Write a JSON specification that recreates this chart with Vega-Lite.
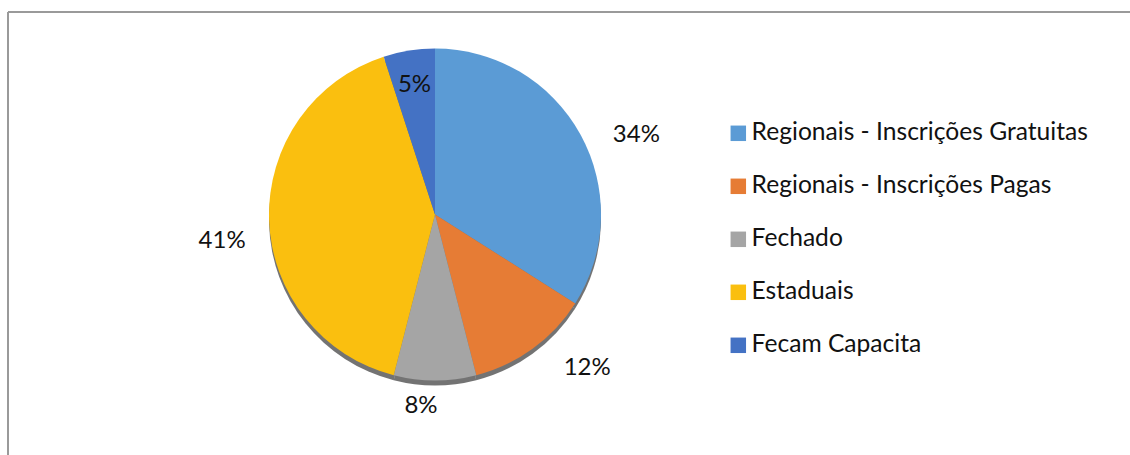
{
  "$schema": "https://vega.github.io/schema/vega-lite/v6.json",
  "width": 854,
  "height": 405,
  "autosize": {"type": "none"},
  "padding": {"left": 8, "top": 12, "right": 268, "bottom": 38},
  "background": "white",
  "config": {"view": {"stroke": null}, "font": "Lato", "text": {"font": "Lato"}},
  "data": {"values": [
    {"categoria": "Regionais - Inscrições Gratuitas", "percentual": 34, "rotulo": "34%", "ordem": 1},
    {"categoria": "Regionais - Inscrições Pagas", "percentual": 12, "rotulo": "12%", "ordem": 2},
    {"categoria": "Fechado", "percentual": 8, "rotulo": "8%", "ordem": 3},
    {"categoria": "Estaduais", "percentual": 41, "rotulo": "41%", "ordem": 4},
    {"categoria": "Fecam Capacita", "percentual": 5, "rotulo": "5%", "ordem": 5}
  ]},
  "layer": [
    {
      "mark": {"type": "arc", "radius": 166, "yOffset": 5, "color": "#000000", "opacity": 0.55},
      "encoding": {
        "theta": {"field": "percentual", "type": "quantitative", "stack": true},
        "order": {"field": "ordem", "type": "quantitative"}
      }
    },
    {
      "mark": {"type": "arc", "radius": 166},
      "encoding": {
        "theta": {"field": "percentual", "type": "quantitative", "stack": true},
        "order": {"field": "ordem", "type": "quantitative"},
        "color": {
          "field": "categoria", "type": "nominal", "sort": null,
          "scale": {
            "domain": ["Regionais - Inscrições Gratuitas", "Regionais - Inscrições Pagas", "Fechado", "Estaduais", "Fecam Capacita"],
            "range": ["#5B9BD5", "#E67C35", "#A5A5A5", "#FABF0F", "#4472C4"]
          },
          "legend": {
            "orient": "none", "legendX": 718, "legendY": 109, "title": null,
            "symbolType": "square", "symbolSize": 240, "symbolStrokeWidth": 0,
            "labelFontSize": 24.6, "labelFont": "Lato", "labelColor": "#111111",
            "labelOffset": 1, "labelLimit": 600, "rowPadding": 28, "padding": 0
          }
        }
      }
    },
    {
      "mark": {"type": "text", "radius": 215, "dx": 13, "dy": 24, "fontSize": 24, "color": "#111111"},
      "encoding": {
        "theta": {"field": "percentual", "type": "quantitative", "stack": true},
        "order": {"field": "ordem", "type": "quantitative"},
        "text": {"condition": {"test": "datum.rotulo === '34%'", "field": "rotulo", "type": "nominal"}, "value": ""}
      }
    },
    {
      "mark": {"type": "text", "radius": 213, "dx": 27, "dy": -19, "fontSize": 24, "color": "#111111"},
      "encoding": {
        "theta": {"field": "percentual", "type": "quantitative", "stack": true},
        "order": {"field": "ordem", "type": "quantitative"},
        "text": {"condition": {"test": "datum.rotulo === '12%'", "field": "rotulo", "type": "nominal"}, "value": ""}
      }
    },
    {
      "mark": {"type": "text", "radius": 191, "dx": -14, "dy": 0, "fontSize": 24, "color": "#111111"},
      "encoding": {
        "theta": {"field": "percentual", "type": "quantitative", "stack": true},
        "order": {"field": "ordem", "type": "quantitative"},
        "text": {"condition": {"test": "datum.rotulo === '8%'", "field": "rotulo", "type": "nominal"}, "value": ""}
      }
    },
    {
      "mark": {"type": "text", "radius": 213, "dx": 0, "dy": 20, "fontSize": 24, "color": "#111111"},
      "encoding": {
        "theta": {"field": "percentual", "type": "quantitative", "stack": true},
        "order": {"field": "ordem", "type": "quantitative"},
        "text": {"condition": {"test": "datum.rotulo === '41%'", "field": "rotulo", "type": "nominal"}, "value": ""}
      }
    },
    {
      "mark": {"type": "text", "radius": 131, "dx": 0, "dy": 0, "fontSize": 24, "color": "#111111"},
      "encoding": {
        "theta": {"field": "percentual", "type": "quantitative", "stack": true},
        "order": {"field": "ordem", "type": "quantitative"},
        "text": {"condition": {"test": "datum.rotulo === '5%'", "field": "rotulo", "type": "nominal"}, "value": ""}
      }
    },
    {
      "data": {"values": [{}]},
      "mark": {"type": "rule", "color": "#9A9A9A", "strokeWidth": 2},
      "encoding": {"x": {"value": 0}, "x2": {"value": 1122}, "y": {"value": 0}}
    },
    {
      "data": {"values": [{}]},
      "mark": {"type": "rule", "color": "#9A9A9A", "strokeWidth": 2},
      "encoding": {"x": {"value": 0}, "y": {"value": 0}, "y2": {"value": 443}}
    }
  ]
}
